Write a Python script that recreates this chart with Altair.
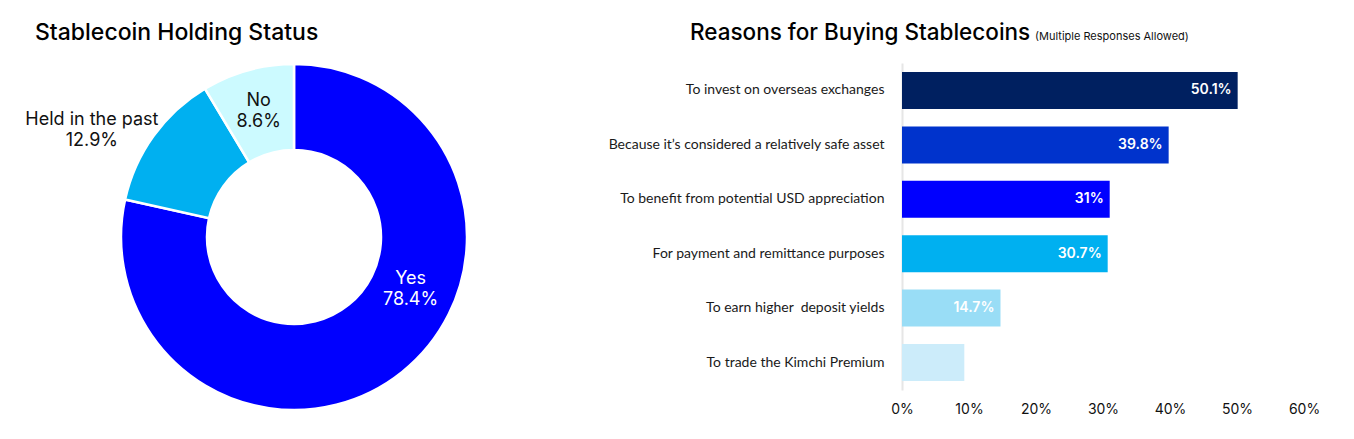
import altair as alt
import pandas as pd

# ---- data ----
status_cats = ["Yes", "Held in the past", "No"]
status_vals = [78.4, 12.9, 8.6]
status_colors = ["#0000FF", "#00B0F0", "#CCFAFF"]
status_text_colors = ["#FFFFFF", "#111111", "#111111"]

reasons = [
    "To invest on overseas exchanges",
    "Because it\u2019s considered a relatively safe asset",
    "To benefit from potential USD appreciation",
    "For payment and remittance purposes",
    "To earn higher\u00a0 deposit yields",
    "To trade the Kimchi Premium",
]
reason_vals = [50.1, 39.8, 31.0, 30.7, 14.7, 9.3]
reason_colors = ["#002060", "#0033CC", "#0000FF", "#00B0F0", "#99DDF6", "#CCECFA"]
reason_show_label = [True, True, True, True, True, False]
x_ticks = [0, 10, 20, 30, 40, 50, 60]

left_title = "Stablecoin Holding Status"
right_title = "Reasons for Buying Stablecoins"
right_note = "(Multiple Responses Allowed)"

FONT = "Inter"
LABEL_FONT = "Lato"

# ---- donut ----
donut_df = pd.DataFrame({
    "category": status_cats,
    "value": status_vals,
    "order": list(range(len(status_cats))),
    "label": [f"{c}\n{v}%" for c, v in zip(status_cats, status_vals)],
    "tcolor": status_text_colors,
})

theta_scale = alt.Scale(domain=[0, sum(status_vals)])

arc = alt.Chart(donut_df).mark_arc(
    innerRadius=87, outerRadius=173, stroke="white", strokeWidth=2.5
).encode(
    theta=alt.Theta("value:Q", stack=True, scale=theta_scale),
    order=alt.Order("order:Q"),
    color=alt.Color("category:N", scale=alt.Scale(domain=status_cats, range=status_colors), legend=None),
)

def label_layer(cat, dx, dy):
    return alt.Chart(donut_df).transform_window(
        cum="sum(value)", sort=[alt.SortField("order")]
    ).transform_calculate(
        mid="datum.cum - datum.value / 2"
    ).transform_filter(
        alt.datum.category == cat
    ).mark_text(
        radius=132, dx=dx, dy=dy, font=FONT, fontSize=18, lineBreak="\n", lineHeight=21,
        align="center", baseline="middle"
    ).encode(
        theta=alt.Theta("mid:Q", stack=False, scale=theta_scale),
        text="label:N",
        color=alt.Color("tcolor:N", scale=None),
    )

lt_df = pd.DataFrame({"t": [left_title]})
left_title_mark = alt.Chart(lt_df).mark_text(
    align="left", baseline="alphabetic", font=FONT, fontSize=23, fontWeight=500, color="#000000"
).encode(x=alt.value(27), y=alt.value(-23), text="t:N")

donut = alt.layer(
    arc,
    label_layer("Yes", 34, -61),
    label_layer("Held in the past", -95, -40),
    label_layer("No", 0, -9),
    left_title_mark,
).properties(width=572, height=348)

# ---- bars ----
bar_df = pd.DataFrame({
    "reason": reasons,
    "value": reason_vals,
    "label": [f"{v:g}%" if s else "" for v, s in zip(reason_vals, reason_show_label)],
})

y_enc = alt.Y(
    "reason:N", sort=reasons,
    scale=alt.Scale(paddingInner=0.32, paddingOuter=0.165),
    axis=alt.Axis(
        title=None, ticks=False, domain=True, domainColor="#E6E6E6", domainWidth=2,
        labelFont=LABEL_FONT, labelFontSize=14, labelColor="#1A1A1A", labelPadding=18,
        labelLimit=400,
    ),
)
x_enc = alt.X(
    "value:Q", scale=alt.Scale(domain=[0, 60]),
    axis=alt.Axis(
        values=x_ticks, labelExpr="datum.value + '%'", title=None, grid=False,
        domain=False, ticks=False, labelFont=FONT, labelFontSize=14, labelFlush=False,
        labelColor="#111111", labelPadding=12,
    ),
)

bars = alt.Chart(bar_df).mark_bar().encode(
    x=x_enc, y=y_enc,
    color=alt.Color("reason:N", scale=alt.Scale(domain=reasons, range=reason_colors), legend=None),
)
vals = alt.Chart(bar_df).mark_text(
    align="right", dx=-6, color="white", font=FONT, fontSize=14, fontWeight=600,
    baseline="middle",
).encode(x=x_enc, y=y_enc, text="label:N")

rt_df = pd.DataFrame({"t": [right_title]})
right_title_mark = alt.Chart(rt_df).mark_text(
    align="left", baseline="alphabetic", font=FONT, fontSize=22.5, fontWeight=500, color="#000000"
).encode(x=alt.value(-212), y=alt.value(-23), text="t:N")

note_df = pd.DataFrame({"t": [right_note]})
note_mark = alt.Chart(note_df).mark_text(
    align="left", baseline="alphabetic", font=FONT, fontSize=11, color="#111111"
).encode(x=alt.value(133), y=alt.value(-23), text="t:N")

barchart = alt.layer(bars, vals, right_title_mark, note_mark).properties(width=402, height=327)

chart = alt.hconcat(donut, barchart, spacing=322, bounds="flush").resolve_scale(
    color="independent", theta="independent"
).properties(
    padding={"left": 0, "top": 14, "right": 0, "bottom": 0}
).configure_view(stroke=None)

chart.save("out.html", embed_options={"renderer": "svg", "actions": False})
